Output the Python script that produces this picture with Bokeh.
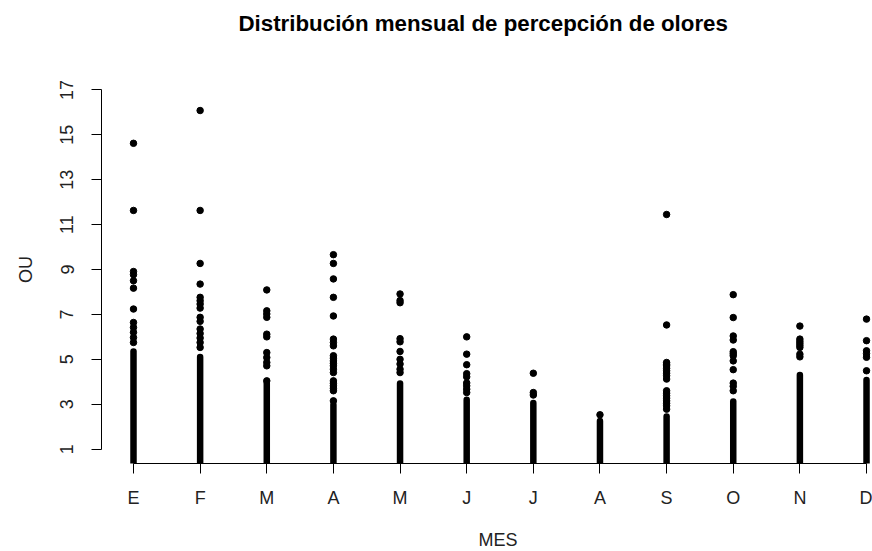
from bokeh.plotting import figure
from bokeh.models import FixedTicker, Range1d, Title
from bokeh.embed import file_html
from bokeh.resources import INLINE

# ---- data ----
months = ["E", "F", "M", "A", "M", "J", "J", "A", "S", "O", "N", "D"]
y_ticks = [1, 3, 5, 7, 9, 11, 13, 15, 17]

# top of the dense (overlapping) strip of points for each month, and its floor
dense_top = [5.35, 5.10, 3.92, 2.98, 3.92, 3.20, 3.05, 2.25, 2.45, 3.12, 4.30, 4.08]
dense_bottom = [0, 0, 0, 0, 0, 0, 0, 0, 0, 0, 0, 0]

# individual points above the dense strip
ene = [14.62, 11.63, 8.91, 8.77, 8.50, 8.17, 7.24, 6.64, 6.42, 6.20, 5.97, 5.75]
feb = [16.08, 11.63, 9.27, 8.35, 7.76, 7.61, 7.46, 7.28, 6.87, 6.69, 6.35, 6.15,
       5.95, 5.75, 5.53]
mar = [8.09, 7.16, 7.02, 6.87, 6.12, 6.00, 5.30, 5.08, 4.86, 4.71, 4.04]
abr = [9.66, 9.27, 8.58, 7.76, 6.93, 5.90, 5.75, 5.60, 5.16, 5.05, 4.93, 4.82,
       4.71, 4.56, 4.41, 4.04, 3.93, 3.82, 3.71, 3.60, 3.15]
may = [7.91, 7.62, 7.52, 5.92, 5.78, 5.35, 5.00, 4.79, 4.56, 4.41]
jun = [6.00, 5.23, 4.76, 4.36, 4.22, 3.95, 3.82, 3.67, 3.52]
jul = [4.38, 3.52, 3.41]
ago = [2.53]
sep = [11.45, 6.53, 4.86, 4.78, 4.71, 4.60, 4.49, 4.38, 4.27, 4.12, 3.60, 3.49,
       3.38, 3.27, 3.15, 3.04, 2.93, 2.78]
octu = [7.88, 6.86, 6.04, 5.86, 5.34, 5.25, 5.16, 4.93, 4.54, 3.94, 3.80, 3.60]
nov = [6.48, 5.90, 5.80, 5.71, 5.62, 5.53, 5.23, 5.11]
dic = [6.79, 5.83, 5.38, 5.25, 5.09, 4.49]

outliers = [ene, feb, mar, abr, may, jun, jul, ago, sep, octu, nov, dic]

title_text = "Distribución mensual de percepción de olores"
x_title = "MES"
y_title = "OU"

# ---- build ----
positions = list(range(1, len(months) + 1))
pts_x, pts_y = [], []
for pos, vals in zip(positions, outliers):
    pts_x += [pos] * len(vals)
    pts_y += vals

FONT = "Liberation Sans"

p = figure(width=872, height=551, output_backend="svg", toolbar_location=None,
           x_range=Range1d(0.5198, 12.0897), y_range=Range1d(0.36, 17.64),
           min_border_left=101, min_border_right=0, min_border_top=75,
           min_border_bottom=88, background_fill_color="white",
           border_fill_color="white", title=None)

p.segment(x0=positions, y0=dense_bottom, x1=positions, y1=dense_top,
          line_width=6.5, line_cap="round", line_color="black")
p.scatter(pts_x, pts_y, size=6.5, fill_color="black", line_color="black")

p.grid.visible = False
p.outline_line_color = None

for ax in (p.xaxis[0], p.yaxis[0]):
    ax.axis_line_color = "black"
    ax.major_tick_line_color = "black"
    ax.minor_tick_line_color = None
    ax.major_tick_out = 10
    ax.major_tick_in = 0
    ax.major_label_text_font = FONT
    ax.major_label_text_font_size = "18px"
    ax.major_label_text_color = "#222222"
    ax.axis_label_text_font = FONT
    ax.axis_label_text_font_size = "18px"
    ax.axis_label_text_font_style = "normal"
    ax.axis_label_text_color = "#222222"

p.xaxis.ticker = FixedTicker(ticks=positions)
p.xaxis.major_label_overrides = {pos: m for pos, m in zip(positions, months)}
p.xaxis.bounds = (positions[0], positions[-1])
p.xaxis.major_label_standoff = 14

p.yaxis.ticker = FixedTicker(ticks=y_ticks)
p.yaxis.bounds = (y_ticks[0], y_ticks[-1])
p.yaxis.major_label_orientation = "vertical"
p.yaxis.major_label_standoff = 18
p.yaxis.axis_label = y_title
p.yaxis.axis_label_standoff = 22

# spacer between the plot and the main title, then the title itself
p.add_layout(Title(text=" ", text_font_size="1px", standoff=35), "above")
p.add_layout(Title(text=title_text, text_font=FONT, text_font_size="22.3px",
                   text_font_style="bold", text_color="black", align="left",
                   offset=137, vertical_align="top", standoff=0), "above")

# x-axis title placed under the tick labels
p.add_layout(Title(text=" ", text_font_size="1px", standoff=16), "below")
p.add_layout(Title(text=x_title, text_font=FONT, text_font_size="18px",
                   text_font_style="normal", text_color="#222222", align="left",
                   offset=377, vertical_align="top", standoff=0), "below")

open("out.html", "w").write(file_html(p, INLINE))
